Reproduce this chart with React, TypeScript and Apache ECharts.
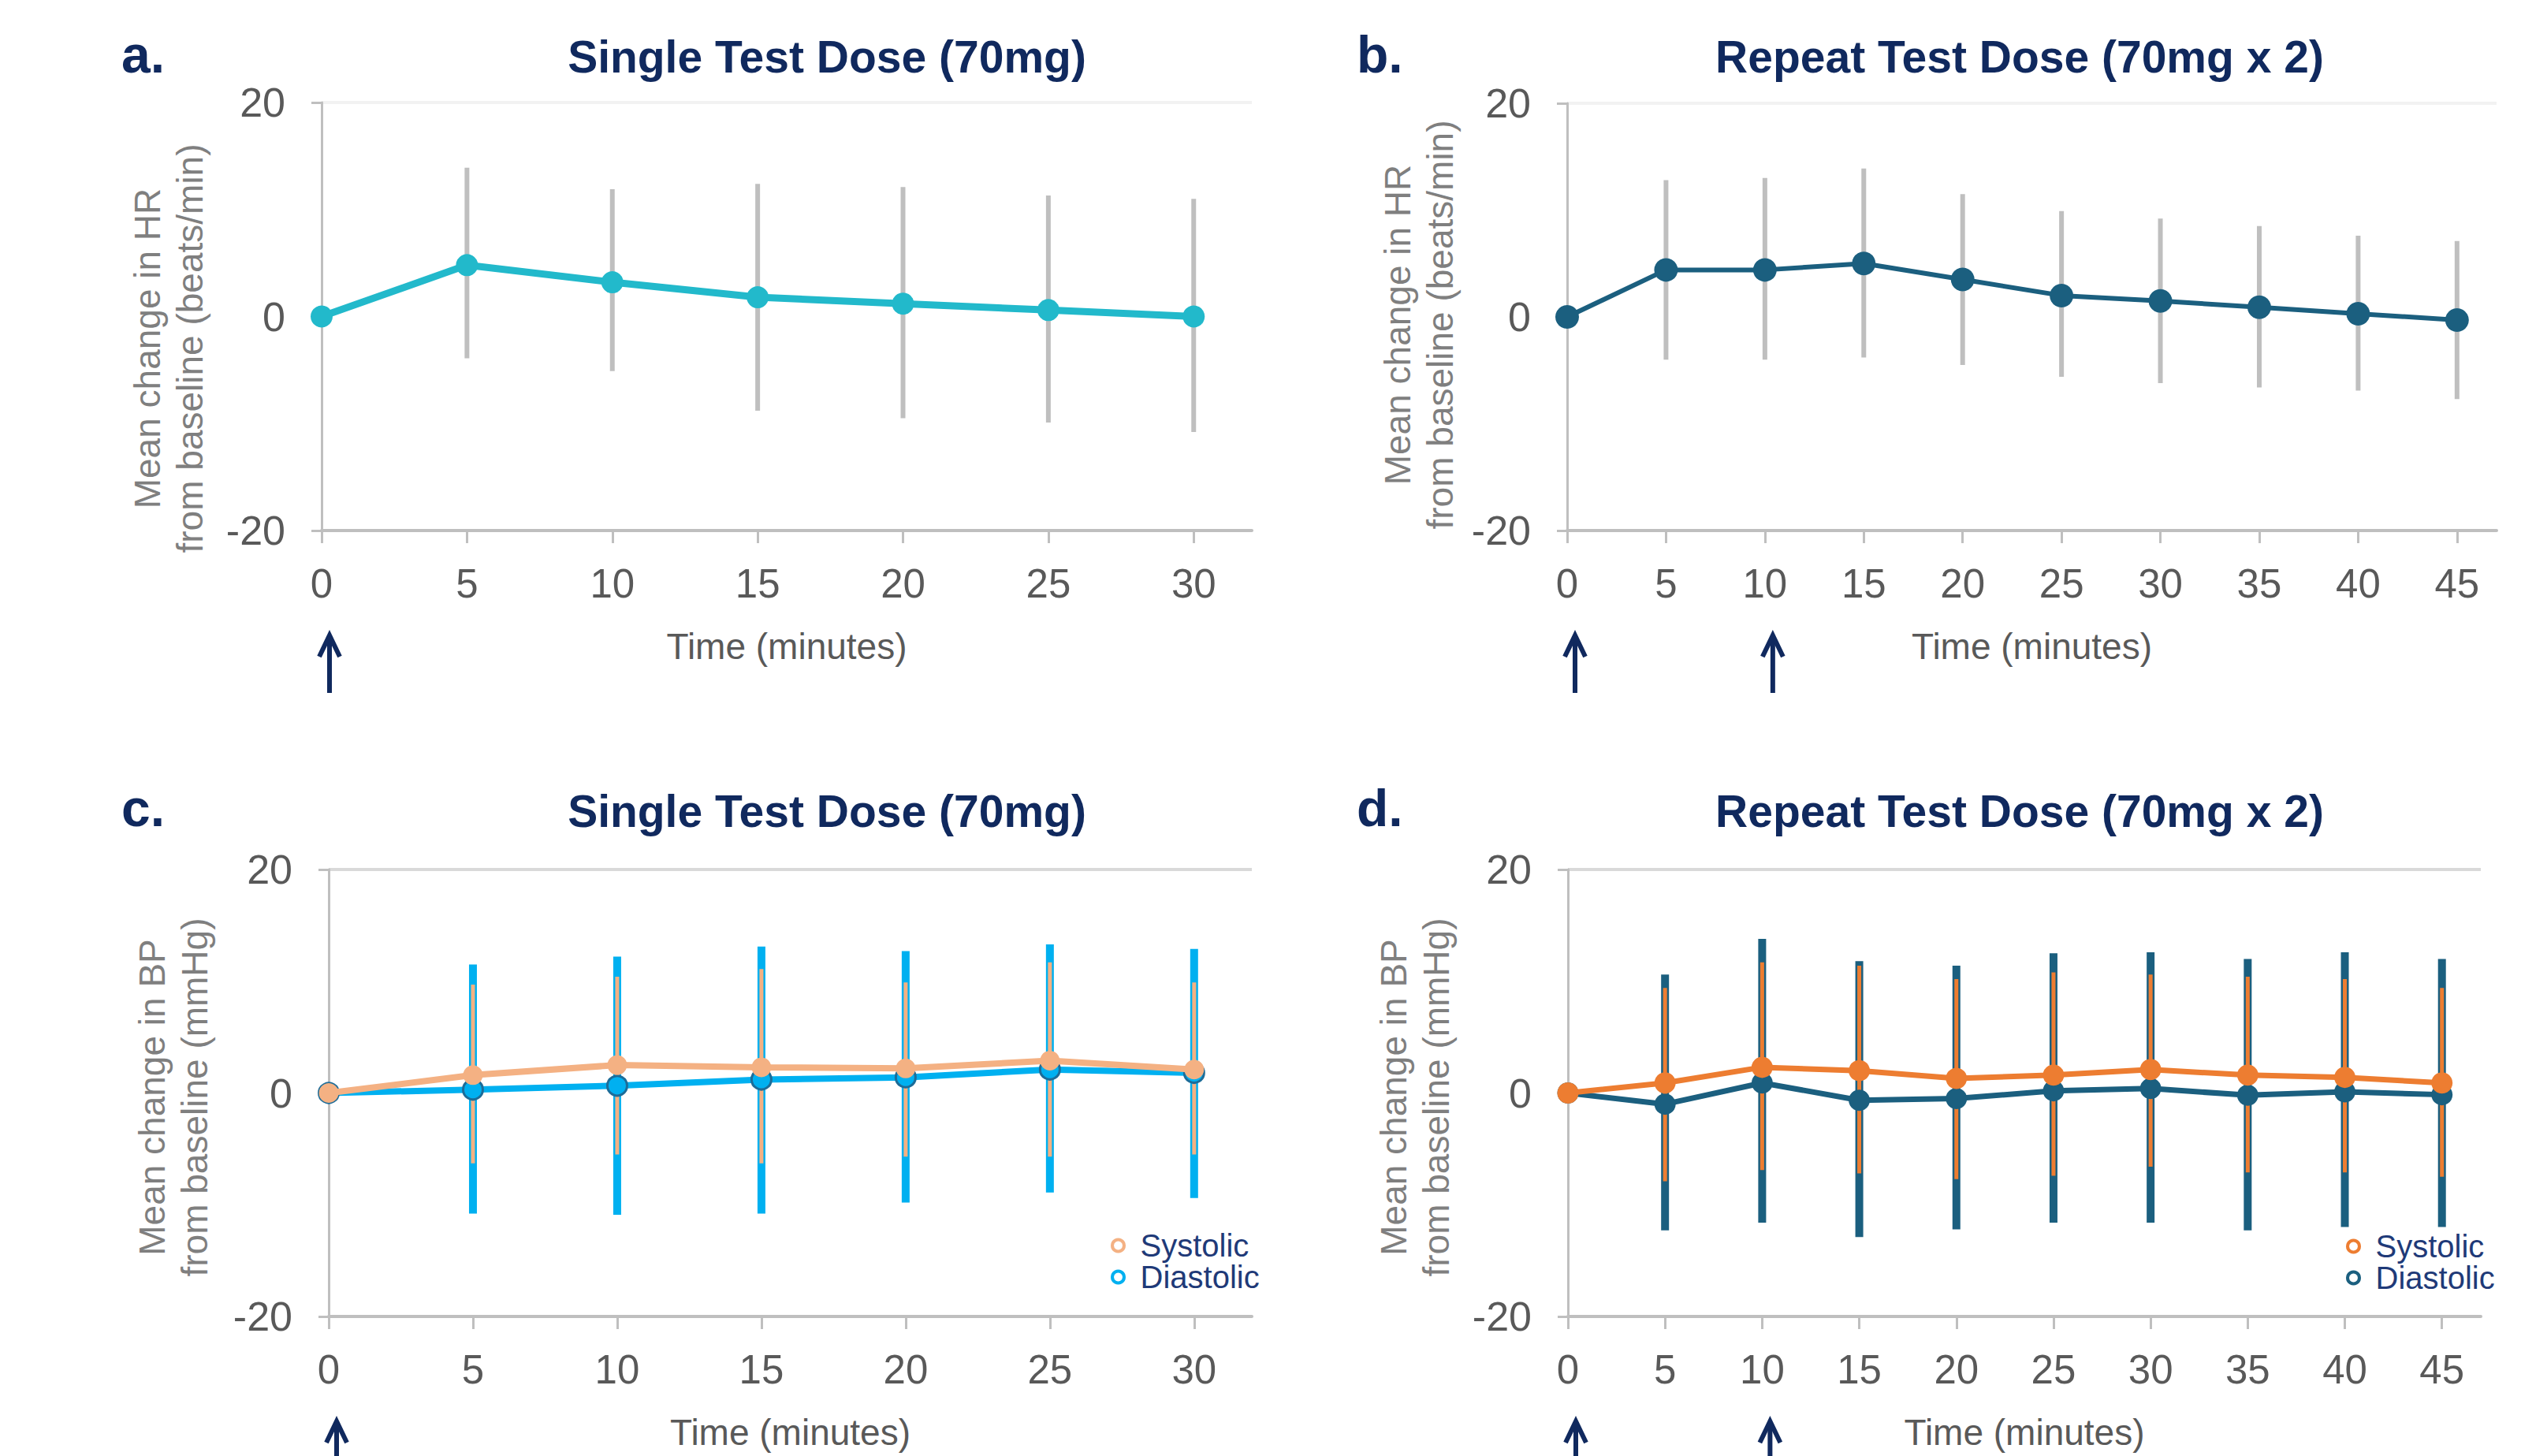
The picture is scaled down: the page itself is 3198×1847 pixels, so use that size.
import React, { useEffect, useRef } from "react";
import * as echarts from "echarts";

// ---------- data ----------
const timesSingle = [0, 5, 10, 15, 20, 25, 30];
const timesRepeat = [0, 5, 10, 15, 20, 25, 30, 35, 40, 45];
const doseTimesSingle = [0];
const doseTimesRepeat = [0, 10];
const yTickValues = [-20, 0, 20];

// a. HR single dose
const hrSingleMean = [0, 4.8, 3.2, 1.8, 1.2, 0.6, 0];
const hrSingleUpper = [null, 13.9, 11.9, 12.4, 12.1, 11.3, 11.0];
const hrSingleLower = [null, -3.9, -5.1, -8.8, -9.5, -9.9, -10.8];

// b. HR repeat dose
const hrRepeatMean = [0, 4.4, 4.4, 5.0, 3.5, 2.0, 1.5, 0.9, 0.3, -0.3];
const hrRepeatUpper = [null, 12.8, 13.0, 13.9, 11.5, 9.9, 9.2, 8.5, 7.6, 7.1];
const hrRepeatLower = [null, -4.0, -4.0, -3.8, -4.5, -5.6, -6.2, -6.6, -6.9, -7.7];

// c. BP single dose
const sysSingleMean = [0, 1.6, 2.5, 2.3, 2.2, 2.9, 2.1];
const sysSingleUpper = [null, 9.7, 10.4, 11.1, 9.9, 11.7, 9.9];
const sysSingleLower = [null, -6.3, -5.5, -6.3, -5.7, -5.7, -5.5];
const diaSingleMean = [0, 0.3, 0.65, 1.2, 1.4, 2.1, 1.8];
const diaSingleUpper = [null, 11.5, 12.2, 13.1, 12.7, 13.3, 12.9];
const diaSingleLower = [null, -10.8, -10.9, -10.8, -9.8, -8.9, -9.4];

// d. BP repeat dose
const sysRepeatMean = [0, 0.9, 2.3, 2.0, 1.3, 1.6, 2.1, 1.6, 1.4, 0.9];
const sysRepeatUpper = [null, 9.4, 11.7, 11.4, 10.2, 10.8, 10.6, 10.4, 10.2, 9.4];
const sysRepeatLower = [null, -7.9, -6.9, -7.2, -7.7, -7.4, -6.6, -7.1, -7.1, -7.5];
const diaRepeatMean = [0, -1.0, 0.9, -0.65, -0.5, 0.2, 0.4, -0.2, 0.1, -0.15];
const diaRepeatUpper = [null, 10.6, 13.8, 11.8, 11.4, 12.5, 12.6, 12.0, 12.6, 12.0];
const diaRepeatLower = [null, -12.3, -11.6, -12.9, -12.2, -11.6, -11.6, -12.3, -12.0, -12.0];

const titleSingle = "Single Test Dose (70mg)";
const titleRepeat = "Repeat Test Dose (70mg x 2)";
const yNameHR = "Mean change in HR\nfrom baseline (beats/min)";
const yNameBP = "Mean change in BP\nfrom baseline (mmHg)";
const xName = "Time (minutes)";
const legendNames = ["Systolic", "Diastolic"];

// ---------- styles ----------
const FONT = "'Liberation Sans', Arial, Helvetica, sans-serif";
const NAVY = "#10295e";
const LABEL_GRAY = "#595959";
const AXIS_GRAY = "#bfbfbf";
const NAME_GRAY = "#7f7f7f";
const ERR_GRAY = "#bfbfbf";
const CYAN = "#22b9cb";
const TEAL = "#1b5f7f";
const PEACH = "#f4b183";
const SKY = "#00b0f0";
const ORANGE = "#ed7d31";

function xAxis(gridIndex: number, ticks: number[], max: number) {
  return {
    type: "value",
    gridIndex,
    min: 0,
    max,
    name: xName,
    nameLocation: "middle",
    nameGap: 124,
    nameTextStyle: { fontFamily: FONT, fontSize: 46, color: LABEL_GRAY },
    axisLine: { show: true, onZero: false, lineStyle: { color: AXIS_GRAY, width: 4 } },
    axisTick: {
      show: true,
      length: 16,
      lineStyle: { color: AXIS_GRAY, width: 3 },
      customValues: ticks,
    },
    axisLabel: {
      fontFamily: FONT,
      fontSize: 51,
      color: LABEL_GRAY,
      margin: 42,
      customValues: ticks,
      formatter: (v: number) => (ticks.indexOf(v) >= 0 ? String(v) : ""),
    },
    splitLine: { show: false },
  };
}

function yAxis(gridIndex: number, gridColor: string) {
  return {
    type: "value",
    gridIndex,
    min: -20,
    max: 20,
    interval: 20,
    axisLine: { show: true, onZero: false, lineStyle: { color: AXIS_GRAY, width: 3 } },
    axisTick: {
      show: true,
      length: 13,
      lineStyle: { color: AXIS_GRAY, width: 3 },
      customValues: [yTickValues[0], yTickValues[2]],
    },
    axisLabel: {
      fontFamily: FONT,
      fontSize: 52,
      color: LABEL_GRAY,
      margin: 46,
      customValues: yTickValues,
    },
    splitLine: { show: true, lineStyle: { color: gridColor, width: 4 } },
  };
}

function errBars(
  name: string,
  idx: number,
  times: number[],
  lo: (number | null)[],
  hi: (number | null)[],
  color: string,
  width: number,
  z: number
) {
  const data: number[][] = [];
  times.forEach((t, i) => {
    if (lo[i] != null && hi[i] != null) data.push([t, lo[i] as number, hi[i] as number]);
  });
  return {
    type: "custom",
    name,
    xAxisIndex: idx,
    yAxisIndex: idx,
    z,
    silent: true,
    clip: false,
    encode: { x: 0, y: [1, 2] },
    data,
    renderItem: (_p: any, api: any) => {
      const a = api.coord([api.value(0), api.value(1)]);
      const b = api.coord([api.value(0), api.value(2)]);
      return {
        type: "line",
        shape: { x1: a[0], y1: a[1], x2: b[0], y2: b[1] },
        style: { stroke: color, lineWidth: width, lineCap: "butt" },
      };
    },
  };
}

function meanLine(
  name: string,
  idx: number,
  times: number[],
  vals: number[],
  color: string,
  width: number,
  size: number,
  border: string,
  borderWidth: number,
  z: number
) {
  return {
    type: "line",
    name,
    xAxisIndex: idx,
    yAxisIndex: idx,
    z,
    data: times.map((t, i) => [t, vals[i]]),
    symbol: "circle",
    symbolSize: size,
    showSymbol: true,
    lineStyle: { color, width },
    itemStyle: { color, borderColor: border, borderWidth },
    emphasis: { disabled: true },
  };
}

function doseArrows(idx: number, doses: number[]) {
  return {
    type: "custom",
    name: "Dose",
    xAxisIndex: idx,
    yAxisIndex: idx,
    z: 10,
    silent: true,
    clip: false,
    encode: { x: 0, y: 1 },
    data: doses.map((t) => [t, -20]),
    renderItem: (_p: any, api: any) => {
      const p = api.coord([api.value(0), api.value(1)]);
      const x = p[0] + 10;
      const top = p[1] + 130;
      const bottom = p[1] + 206;
      return {
        type: "group",
        children: [
          {
            type: "line",
            shape: { x1: x, y1: top + 4, x2: x, y2: bottom },
            style: { stroke: NAVY, lineWidth: 6 },
          },
          {
            type: "polyline",
            shape: { points: [[x - 13, top + 30], [x, top + 3], [x + 13, top + 30]] },
            style: { stroke: NAVY, lineWidth: 6, fill: null, lineJoin: "miter" },
          },
        ],
      };
    },
  };
}

function legendAt(left: number, top: number, sysColor: string, diaColor: string) {
  return {
    orient: "vertical",
    left,
    top,
    itemWidth: 46,
    itemHeight: 15,
    itemGap: 0,
    selectedMode: false,
    textStyle: { fontFamily: FONT, fontSize: 40, color: "#1f3a78", lineHeight: 40 },
    data: [
      {
        name: legendNames[0],
        icon: "circle",
        itemStyle: { color: "#ffffff", borderColor: sysColor, borderWidth: 4 },
      },
      {
        name: legendNames[1],
        icon: "circle",
        itemStyle: { color: "#ffffff", borderColor: diaColor, borderWidth: 4 },
      },
    ],
  };
}

function textEl(text: string, x: number, y: number, size: number, weight: string, color: string, align = "center") {
  return {
    type: "text",
    x,
    y,
    silent: true,
    style: {
      text,
      fill: color,
      font: `${weight} ${size}px ${FONT}`,
      align,
      verticalAlign: "middle",
    },
  };
}

function yNameEl(text: string, x: number, y: number) {
  return {
    type: "text",
    x,
    y,
    rotation: Math.PI / 2,
    silent: true,
    style: {
      text,
      fill: NAME_GRAY,
      font: `normal 46px ${FONT}`,
      align: "center",
      verticalAlign: "middle",
      lineHeight: 54,
    },
  };
}

export default function App() {
  const ref = useRef<HTMLDivElement>(null);

  useEffect(() => {
    document.body.style.margin = "0";
    if (!ref.current) return;
    const chart = echarts.init(ref.current, undefined, { renderer: "svg" });

    const option: any = {
      animation: false,
      backgroundColor: "#ffffff",
      grid: [
        { left: 408, top: 130, width: 1180, height: 543 },
        { left: 1988, top: 131, width: 1179, height: 542 },
        { left: 417, top: 1103, width: 1171, height: 567 },
        { left: 1989, top: 1103, width: 1158, height: 567 },
      ],
      xAxis: [
        xAxis(0, timesSingle, 32),
        xAxis(1, timesRepeat, 47),
        xAxis(2, timesSingle, 32),
        xAxis(3, timesRepeat, 47),
      ],
      yAxis: [
        yAxis(0, "#f2f2f2"),
        yAxis(1, "#f2f2f2"),
        yAxis(2, "#d9d9d9"),
        yAxis(3, "#d9d9d9"),
      ],
      legend: [legendAt(1404, 1555, PEACH, SKY), legendAt(2971, 1556, ORANGE, TEAL)],
      series: [
        // a
        errBars("HR SD a", 0, timesSingle, hrSingleLower, hrSingleUpper, ERR_GRAY, 6, 2),
        meanLine("HR single", 0, timesSingle, hrSingleMean, CYAN, 9, 28, CYAN, 0, 5),
        doseArrows(0, doseTimesSingle),
        // b
        errBars("HR SD b", 1, timesRepeat, hrRepeatLower, hrRepeatUpper, ERR_GRAY, 6, 2),
        meanLine("HR repeat", 1, timesRepeat, hrRepeatMean, TEAL, 6, 30, TEAL, 0, 5),
        doseArrows(1, doseTimesRepeat),
        // c
        errBars("Diastolic SD c", 2, timesSingle, diaSingleLower, diaSingleUpper, SKY, 10, 2),
        errBars("Systolic SD c", 2, timesSingle, sysSingleLower, sysSingleUpper, PEACH, 5, 3),
        meanLine("Diastolic", 2, timesSingle, diaSingleMean, SKY, 8, 25, "#1d6c98", 3, 5),
        meanLine("Systolic", 2, timesSingle, sysSingleMean, PEACH, 8, 25, PEACH, 0, 6),
        doseArrows(2, doseTimesSingle),
        // d
        errBars("Diastolic SD d", 3, timesRepeat, diaRepeatLower, diaRepeatUpper, TEAL, 10, 2),
        errBars("Systolic SD d", 3, timesRepeat, sysRepeatLower, sysRepeatUpper, ORANGE, 5, 3),
        meanLine("Diastolic", 3, timesRepeat, diaRepeatMean, TEAL, 7, 27, TEAL, 0, 5),
        meanLine("Systolic", 3, timesRepeat, sysRepeatMean, ORANGE, 7, 27, ORANGE, 0, 6),
        doseArrows(3, doseTimesRepeat),
      ],
      graphic: [
        textEl("a.", 154, 69, 66, "bold", NAVY, "left"),
        textEl("b.", 1721, 69, 66, "bold", NAVY, "left"),
        textEl("c.", 154, 1025, 66, "bold", NAVY, "left"),
        textEl("d.", 1721, 1025, 66, "bold", NAVY, "left"),
        textEl(titleSingle, 1049, 72, 57, "bold", NAVY),
        textEl(titleRepeat, 2562, 72, 57, "bold", NAVY),
        textEl(titleSingle, 1049, 1029, 57, "bold", NAVY),
        textEl(titleRepeat, 2562, 1029, 57, "bold", NAVY),
        yNameEl(yNameHR, 214, 442),
        yNameEl(yNameHR, 1800, 412),
        yNameEl(yNameBP, 220, 1392),
        yNameEl(yNameBP, 1795, 1392),
      ],
    };

    chart.setOption(option);
    return () => {
      chart.dispose();
    };
  }, []);

  return <div ref={ref} style={{ width: 3198, height: 1847 }} />;
}
